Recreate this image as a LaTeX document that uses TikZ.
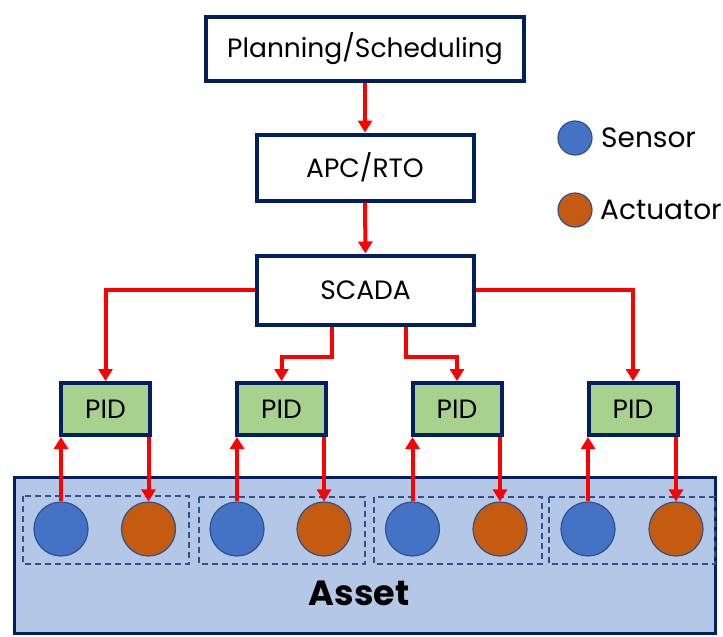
\documentclass[tikz,border=0pt]{standalone}
\usepackage{fontspec}
\setmainfont{Poppins}
\usetikzlibrary{arrows.meta}
\definecolor{navy}{HTML}{002060}
\definecolor{pidgreen}{HTML}{A9D18E}
\definecolor{assetblue}{HTML}{B4C7E7}
\definecolor{sensorblue}{HTML}{4472C4}
\definecolor{actorange}{HTML}{C55A11}
\definecolor{rimblue}{HTML}{2F528F}
\tikzset{
  levelbox/.style={draw=navy, line width=4pt, fill=white, inner sep=0pt,
    font=\fontsize{26.5}{31}\selectfont},
  pidbox/.style={levelbox, fill=pidgreen, minimum width=89pt, minimum height=52pt},
  flow/.style={draw=red, line width=4pt,
    -{Triangle[width=14pt,length=12pt]}},
  sensor/.style={circle, draw=rimblue, line width=1.2pt, fill=sensorblue,
    minimum size=54pt, inner sep=0pt},
  actuator/.style={sensor, fill=actorange},
  loopgroup/.style={draw=rimblue, line width=1.3pt, dash pattern=on 6pt off 4pt},
  legendtext/.style={anchor=west, inner sep=0pt, font=\fontsize{28}{33}\selectfont}
}
\begin{document}
\begin{tikzpicture}[x=1pt, y=-1pt]
\useasboundingbox (0,0) rectangle (723,637);

% plant area
\draw[draw=navy, fill=assetblue, line width=3pt] (14.5,477.5) rectangle (715.5,633.5);
\node[font=\fontsize{35}{40}\selectfont\bfseries, inner sep=0pt] (asset) at (359,593) {Asset};

% one dashed group per control loop
\draw[loopgroup] (23,496) rectangle (189,564);
\draw[loopgroup] (199,497) rectangle (365,564);
\draw[loopgroup] (374,497) rectangle (542,564);
\draw[loopgroup] (549,497) rectangle (715,564);

% field devices
\node[sensor]   (s1) at (61,529) {};
\node[actuator] (a1) at (148.5,529) {};
\node[sensor]   (s2) at (237,529) {};
\node[actuator] (a2) at (324,529) {};
\node[sensor]   (s3) at (412.5,529) {};
\node[actuator] (a3) at (500,529) {};
\node[sensor]   (s4) at (588,529) {};
\node[actuator] (a4) at (676,529) {};

% control hierarchy
\node[levelbox, minimum width=318pt, minimum height=64pt] (plan) at (365,49) {Planning/Scheduling};
\node[levelbox, minimum width=217pt, minimum height=66pt] (apc) at (365,167.5) {APC/RTO};
\node[levelbox, minimum width=217pt, minimum height=69pt] (scada) at (365.5,290) {SCADA};

\node[pidbox] (p1) at (105.5,409) {PID};
\node[pidbox] (p2) at (281.5,409) {PID};
\node[pidbox] (p3) at (457,409) {PID};
\node[pidbox] (p4) at (633,409) {PID};

% supervisory links
\draw[flow] (plan) -- (apc);
\draw[flow] (apc) -- (scada);
\draw[flow] (scada.west) -| (p1.north);
\draw[flow] (scada.east) -| (p4.north);
\coordinate (k2) at (332,357);
\coordinate (k3) at (406,357);
\draw[flow] (k2 |- scada.south) -- (k2) -| (p2.north);
\draw[flow] (k3 |- scada.south) -- (k3) -| (p3.north);

% measurement and actuation links
\foreach \i in {1,2,3,4}{
  \draw[flow] (s\i.north) -- (s\i.north |- p\i.south);
  \draw[flow] (a\i.north |- p\i.south) -- (a\i.north);
}

% legend
\node[sensor, minimum size=34pt] (ls) at (575,138) {};
\node[actuator, minimum size=34pt] (la) at (575,210) {};
\node[legendtext] (lst) at (601,138) {Sensor};
\node[legendtext] (lat) at (600,210) {Actuator};
\end{tikzpicture}
\end{document}
